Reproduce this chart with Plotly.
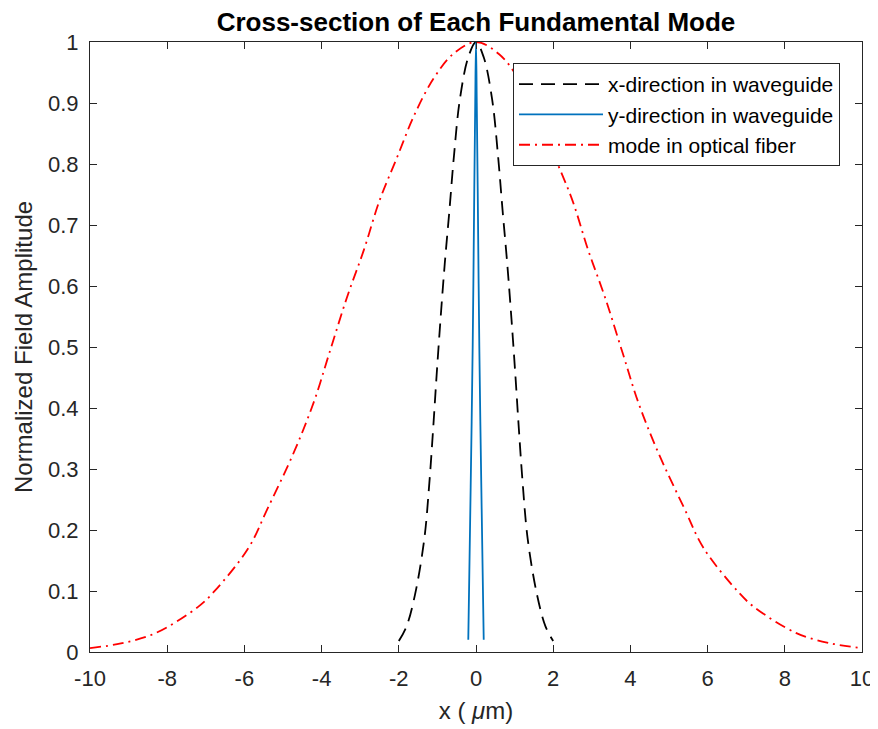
import plotly.graph_objects as go

# Data
fiber_x = [-10, -9.2, -8.3, -7.2, -6.8, -5.9, -5.4, -4.7, -4.2, -3.8, -3.35, -2.9, -2.5, -2.05, -1.6, -1.1, -0.6, 0,
           0.6, 1.1, 1.6, 2.05, 2.5, 2.9, 3.35, 3.8, 4.2, 4.7, 5.4, 5.9, 6.8, 7.2, 8.3, 9.2, 10]
fiber_y = [0.0065, 0.014, 0.031, 0.074, 0.098, 0.17, 0.235, 0.33, 0.41, 0.49, 0.58, 0.66, 0.74, 0.81, 0.88, 0.94, 0.98, 1.0,
           0.98, 0.94, 0.88, 0.81, 0.74, 0.66, 0.58, 0.49, 0.41, 0.33, 0.235, 0.17, 0.098, 0.074, 0.031, 0.014, 0.0065]

wgx_x = [-2, -1.8, -1.58, -1.34, -1.21, -1.11, -1.02, -0.92, -0.81, -0.69, -0.57, -0.42, -0.2, 0,
         0.2, 0.42, 0.57, 0.69, 0.81, 0.92, 1.02, 1.11, 1.21, 1.34, 1.58, 1.8, 2]
wgx_y = [0.018, 0.042, 0.094, 0.185, 0.276, 0.366, 0.454, 0.545, 0.636, 0.723, 0.814, 0.905, 0.975, 1.0,
         0.975, 0.905, 0.814, 0.723, 0.636, 0.545, 0.454, 0.366, 0.276, 0.185, 0.094, 0.042, 0.018]

wgy_x = [-0.2, -0.138, -0.086, -0.044, -0.02, 0, 0.02, 0.044, 0.086, 0.138, 0.2]
wgy_y = [0.02, 0.27, 0.5, 0.76, 0.9, 1.0, 0.9, 0.76, 0.5, 0.27, 0.02]

x_ticks = [-10, -8, -6, -4, -2, 0, 2, 4, 6, 8, 10]
x_tick_text = ["-10", "-8", "-6", "-4", "-2", "0", "2", "4", "6", "8", "10"]
y_ticks = [0, 0.1, 0.2, 0.3, 0.4, 0.5, 0.6, 0.7, 0.8, 0.9, 1]
y_tick_text = ["0", "0.1", "0.2", "0.3", "0.4", "0.5", "0.6", "0.7", "0.8", "0.9", "1"]

AX = "#262626"
FONT = "Liberation Sans, Arial, sans-serif"

# page body has an 8px default margin: figure is 870x721 so the plot area lands at x 90-862, y 42-652
W, H = 870, 721
ML, MR, MT, MB = 82, 16, 34, 77

fig = go.Figure()
fig.add_trace(go.Scatter(x=wgx_x, y=wgx_y, mode="lines", name="x-direction in waveguide",
                         line=dict(color="black", width=1.8, dash="14px,8px"), line_shape="spline"))
fig.add_trace(go.Scatter(x=wgy_x, y=wgy_y, mode="lines", name="y-direction in waveguide",
                         line=dict(color="#0072BD", width=1.8), line_shape="spline"))
fig.add_trace(go.Scatter(x=fiber_x, y=fiber_y, mode="lines", name="mode in optical fiber",
                         line=dict(color="#FF0000", width=1.8, dash="11px,5px,2px,5px"), line_shape="spline"))

pw = W - ML - MR
ph = H - MT - MB
fig.update_layout(
    width=W, height=H,
    margin=dict(l=ML, r=MR, t=MT, b=MB),
    paper_bgcolor="white", plot_bgcolor="white",
    font=dict(family=FONT, color=AX, size=22),
    title=dict(text="<b>Cross-section of Each Fundamental Mode</b>", x=(ML + pw / 2) / W, xanchor="center",
               y=1 - 14 / H, yanchor="middle", font=dict(size=26, color="black", family=FONT)),
    showlegend=True,
    legend=dict(x=(840 - 90) / pw, xanchor="right", y=(652 - 63) / ph, yanchor="top",
                bgcolor="white", bordercolor=AX, borderwidth=1,
                font=dict(size=21, color="black", family=FONT),
                itemwidth=84, tracegroupgap=0),
)
fig.update_xaxes(range=[-10, 10], tickmode="array", tickvals=x_ticks, ticktext=x_tick_text,
                 ticks="inside", ticklen=7, ticklabelstandoff=6, automargin=False,
                 tickcolor=AX, linecolor=AX, linewidth=1.2, showline=True, mirror="ticks",
                 showgrid=False, zeroline=False, tickfont=dict(size=22, color=AX),
                 title=dict(text="x ( <i>μ</i>m)", font=dict(size=24, color=AX), standoff=12))
fig.update_yaxes(range=[0, 1], tickmode="array", tickvals=y_ticks, ticktext=y_tick_text,
                 ticks="inside", ticklen=7, ticklabelstandoff=6, automargin=False,
                 tickcolor=AX, linecolor=AX, linewidth=1.2, showline=True, mirror="ticks",
                 showgrid=False, zeroline=False, tickfont=dict(size=22, color=AX),
                 title=dict(text="Normalized Field Amplitude", font=dict(size=24, color=AX), standoff=8))

fig.write_html("out.html")
